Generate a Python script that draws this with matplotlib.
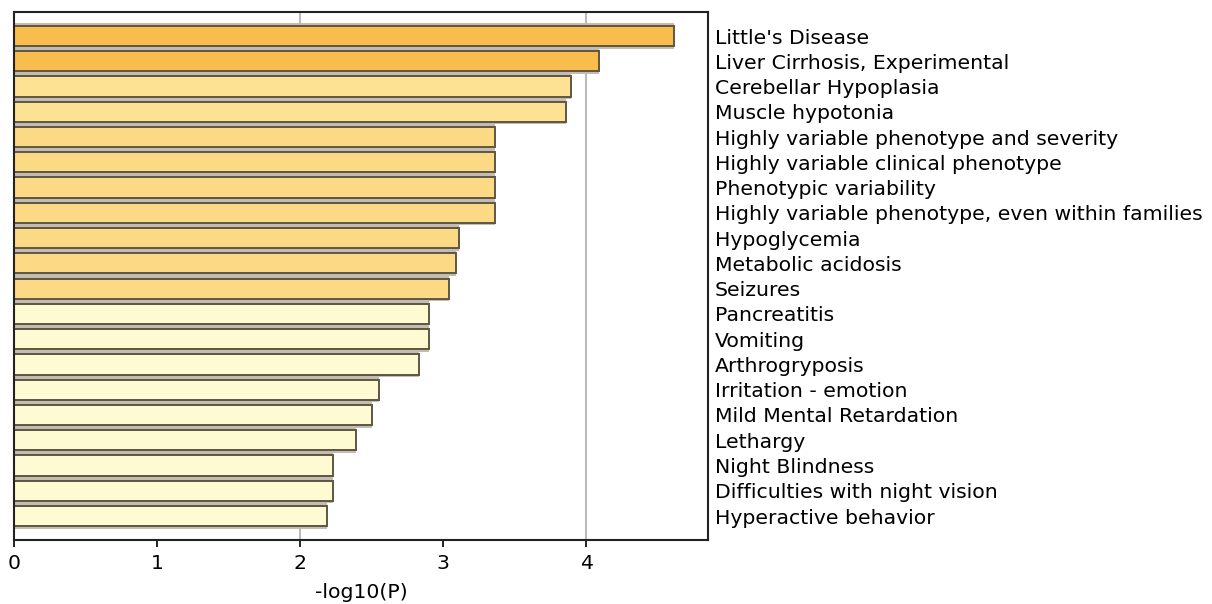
import matplotlib
matplotlib.use("Agg")
import matplotlib.pyplot as plt

categories = ["Little's Disease", "Liver Cirrhosis, Experimental", "Cerebellar Hypoplasia",
              "Muscle hypotonia", "Highly variable phenotype and severity",
              "Highly variable clinical phenotype", "Phenotypic variability",
              "Highly variable phenotype, even within families", "Hypoglycemia",
              "Metabolic acidosis", "Seizures", "Pancreatitis", "Vomiting", "Arthrogryposis",
              "Irritation - emotion", "Mild Mental Retardation", "Lethargy", "Night Blindness",
              "Difficulties with night vision", "Hyperactive behavior"]
values = [4.61, 4.09, 3.89, 3.86, 3.36, 3.36, 3.36, 3.36, 3.11, 3.09, 3.04,
          2.90, 2.90, 2.83, 2.55, 2.50, 2.39, 2.23, 2.23, 2.19]
colors = ["#F9BD4E", "#F9BD4E", "#FDE293", "#FDE293"] + ["#FCD985"] * 7 + ["#FEFAD2"] * 9

fig = plt.figure(figsize=(12.12, 6.04), dpi=100)
ax = fig.add_axes([14 / 1212, 1 - 540 / 604, (708 - 14) / 1212, (540 - 12) / 604])

ypos = list(range(len(categories)))
for x in (2, 4):
    ax.axvline(x, color="#bbbbbb", lw=1.5, zorder=0)
# gray shadow band behind bars
ax.barh(ypos, values, height=1.0, color="#c4bcae", edgecolor="none", zorder=1)
ax.barh(ypos, values, height=0.80, color=colors, edgecolor="#5e5645", linewidth=1.4, zorder=2)

ax.set_xlim(0, 4.85)
ax.set_ylim(len(categories) - 0.05, -0.95)
ax.set_xticks([0, 1, 2, 3, 4])
ax.tick_params(axis="x", direction="out", length=5, width=1.2, labelsize=14.7, pad=5)
ax.set_yticks(ypos)
ax.set_yticklabels(categories)
ax.yaxis.tick_right()
ax.tick_params(axis="y", length=0, labelsize=14.7, pad=5)
ax.set_xlabel("-log10(P)", fontsize=14.7, labelpad=7)
for s in ax.spines.values():
    s.set_linewidth(1.5)
    s.set_color("#222222")

fig.savefig("out.png", dpi=100)
